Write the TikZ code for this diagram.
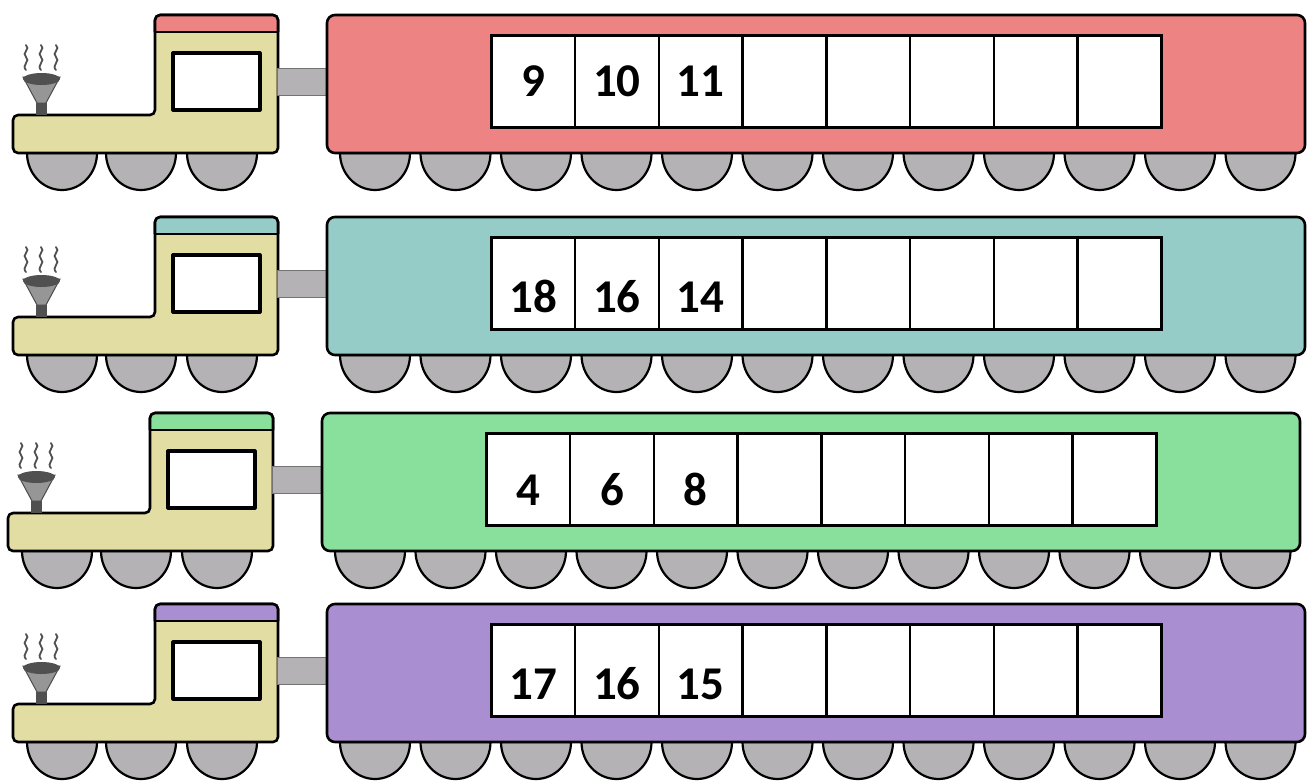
\documentclass[tikz,border=0pt]{standalone}
\usepackage{fontspec}
\setmainfont{Carlito}
\definecolor{wagonred}{RGB}{238,131,131}
\definecolor{wagonteal}{RGB}{150,204,200}
\definecolor{wagongreen}{RGB}{136,224,156}
\definecolor{wagonpurple}{RGB}{170,142,210}
\definecolor{locoyellow}{RGB}{226,221,163}
\definecolor{wheelgray}{RGB}{180,178,180}
\definecolor{funnelgray}{RGB}{150,150,150}
\definecolor{smokedark}{RGB}{80,80,80}
\begin{document}
\begin{tikzpicture}[x=1pt, y=-1pt,
        outline/.style={draw=black, line width=2.6pt, line join=round},
        wheel/.style={fill=wheelgray, draw=black, line width=2.2pt},
        coupler/.style={fill=wheelgray, draw=black!55, line width=1pt},
        smoke/.style={draw=smokedark, line width=1.8pt, line cap=round},
        cell/.style={rectangle, draw=black, line width=2.6pt, fill=white, minimum width=83.75pt, minimum height=92pt, inner sep=0pt, anchor=north west},
        num/.style={font=\bfseries\fontsize{47}{47}\selectfont, inner sep=0pt, text height=29.6pt, text depth=0pt}
    ]
    \fill[white] (0,0) rectangle (1307,782);
    \useasboundingbox (0,0) rectangle (1307,782);

    \foreach \row/\tx/\ty/\col/\da/\db/\dc/\off in {1/0/15/wagonred/9/10/11/0, 2/0/217/wagonteal/18/16/14/14, 3/-5/413/wagongreen/4/6/8/11, 4/0/604/wagonpurple/17/16/15/14} {
    \begin{scope}[shift={(\tx,\ty)}]
        % wheels
        \foreach \w in {62,141,222}
            \draw[wheel] (\w-35,138) arc[start angle=180, end angle=0, x radius=35, y radius=37] -- cycle;
        \foreach \w in {0,...,11}
            \draw[wheel] ({375+80.5*\w-35},138) arc[start angle=180, end angle=0, x radius=35, y radius=37] -- cycle;

        % locomotive
        \draw[outline, fill=locoyellow, rounded corners=5pt] (13,100) -- (155,100) -- (155,0) -- (278,0) -- (278,138) -- (13,138) -- cycle;
        \fill[\col] (155,17) [rounded corners=5pt] -- (155,0) -- (278,0) [sharp corners] -- (278,17) -- cycle;
        \draw[outline, rounded corners=5pt] (155,17) -- (155,0) -- (278,0) -- (278,17);
        \draw[outline] (155,17) -- (278,17);
        \draw[outline, line width=3.2pt, fill=white] (173,38) rectangle (260,95);

        % chimney and smoke
        \draw[fill=funnelgray, draw=black!70, line width=1pt] (23,62) -- (60,62) -- (46,88) -- (37,88) -- cycle;
        \fill[smokedark] (36,88) rectangle (47,100);
        \fill[smokedark] (41.5,64) ellipse[x radius=18.5, y radius=6];
        \foreach \s in {26,41,56}
            \draw[smoke] (\s,55) .. controls (\s-5,50) and (\s+5,46) .. (\s,42) .. controls (\s-5,38) and (\s+5,34) .. (\s,30);

        % coupler and carriage
        \draw[coupler] (277,53) rectangle (328,80);
        \draw[outline, fill=\col, rounded corners=8pt] (327,0) rectangle (1305,138);
        \foreach \k in {1,...,8}
            \node[cell] (cell\row-\k) at ({490+(\k-1)*83.75},19) {};
        \node[num] (num\row-1) at ([yshift=-\off pt]cell\row-1.center) {\da};
        \node[num] (num\row-2) at ([yshift=-\off pt]cell\row-2.center) {\db};
        \node[num] (num\row-3) at ([yshift=-\off pt]cell\row-3.center) {\dc};
    \end{scope}
    }
\end{tikzpicture}
\end{document}
